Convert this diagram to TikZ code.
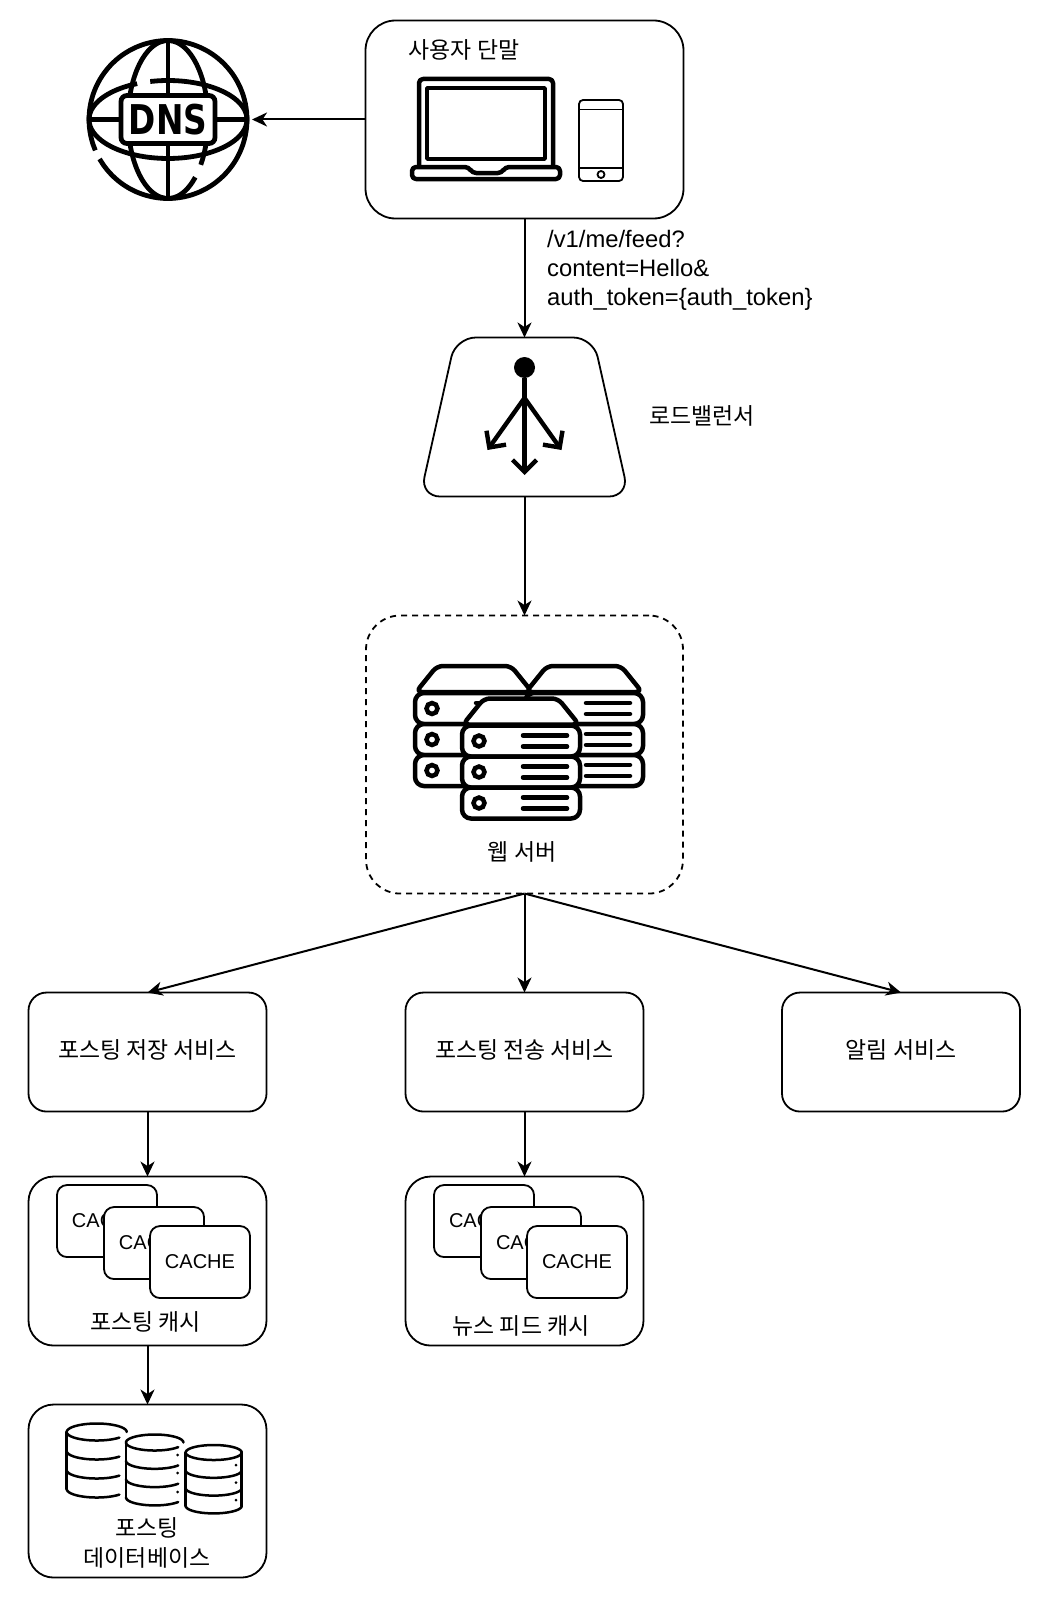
\documentclass[tikz,border=0pt]{standalone}
\usepackage{fontspec}
\setmainfont{Liberation Sans}
\newfontfamily\krfont{Noto Sans CJK KR}
\newfontfamily\dnsfont[FakeStretch=0.8]{DejaVu Sans}
\usetikzlibrary{positioning,shapes.geometric,arrows.meta}
\newcommand{\ellarc}[6]{plot[domain=#5:#6,samples=60,variable=\t,smooth] ({#1+#3*cos(\t)},{#2+#4*sin(\t)})}
\tikzset{
	serverstack/.pic={
		\draw[fill=white,line width=4.5pt,rounded corners=6pt,line join=round] (1,0) -- (22,-26) -- (96,-26) -- (117,0) -- cycle;
		\foreach \row in {0,1,2}{
			\draw[fill=white,line width=4.5pt,rounded corners=9pt] (0,{1+31*\row}) rectangle (118,{32+31*\row});
			\draw[fill=white,line width=4.5pt] (17,{16.5+31*\row}) circle[radius=5.5pt];
			\draw[line width=4.5pt,line cap=round] (61,{11+31*\row}) -- (105,{11+31*\row});
			\draw[line width=4.5pt,line cap=round] (61,{22+31*\row}) -- (105,{22+31*\row});
		}
	}
}
\begin{document}
\begin{tikzpicture}[
	x=1pt, y=-1pt,
	>={Stealth[length=15pt,width=14pt,inset=4.5pt]},
	rec/.style     = {draw, line width=1.8pt, inner sep=0pt, outer sep=0pt, fill=white, align=center},
	userbox/.style = {rec, minimum width=318pt, minimum height=198pt, rounded corners=30pt},
	lbshape/.style = {rec, trapezium, trapezium stretches=true, trapezium left angle=74, trapezium right angle=74,
		minimum width=209pt, minimum height=159pt, rounded corners=20pt},
	webbox/.style  = {rec, dashed, dash pattern=on 6pt off 5pt, minimum width=317pt, minimum height=278pt, rounded corners=34pt},
	svc/.style     = {rec, text height=17pt, text depth=3.5pt, minimum width=238pt, minimum height=119pt, rounded corners=18pt},
	groupbox/.style = {rec, minimum width=238pt, rounded corners=25pt},
	card/.style    = {rec, font=\fontsize{20}{23}\selectfont, minimum width=100pt, minimum height=72pt, rounded corners=10pt},
	label/.style   = {inner sep=0pt, align=center},
	globe/.style   = {line width=4.8pt},
	icon/.style    = {line width=3.5pt, line join=round},
	barb/.style    = {-{Straight Barb[length=12pt,width=24pt]}, line width=4.4pt},
	link/.style    = {->, line width=2pt},
	cyl/.style     = {line width=2.5pt, line cap=round},
	font=\krfont\fontsize{22.9}{30.5}\selectfont]
	
	\useasboundingbox (0,0) rectangle (1041,1600);
	
	% main chain from top to bottom
	\node[userbox] (user) at (524.5,119.5) {};
	\node[lbshape, below=119pt of user] (lb) {\phantom{M}};
	\node[webbox, below=119pt of lb] (web) {};
	\node[svc, below=99pt of web] (svcfeed) {포스팅 전송 서비스};
	\node[svc, left=139pt of svcfeed] (svcstore) {포스팅 저장 서비스};
	\node[svc, right=138.5pt of svcfeed] (svcnotify) {알림 서비스};
	\node[groupbox, minimum height=169pt, below=65pt of svcstore] (cachepost) {};
	\node[groupbox, minimum height=169pt, below=65pt of svcfeed] (cachefeed) {};
	\node[groupbox, minimum height=173pt, below=59pt of cachepost] (db) {};
	\node[circle, minimum size=168pt, inner sep=0pt, outer sep=0pt] (dns) at (168,119.5) {};
	
	% the DNS globe
	\draw[globe] \ellarc{168}{119.5}{79}{79}{157}{510};
	\draw[globe] \ellarc{168}{119.5}{40}{79}{47}{395};
	\draw[globe] \ellarc{168}{119.5}{79}{39}{257}{607};
	\draw[globe] (168,40) -- (168,199);
	\draw[globe] (89,119.5) -- (247,119.5);
	\node[draw, globe, fill=white, rounded corners=6pt, minimum width=94pt, minimum height=48pt, inner sep=0pt,
		font=\dnsfont\bfseries\fontsize{41}{41}\selectfont] (dnstext) at (168,119.5) {DNS};
	
	% terminal: laptop and phone
	\node[label] (userlabel) at (464,49.5) {사용자 단말};
	\draw[icon, line width=4.5pt, rounded corners=4pt] (419,166) -- (419,79) -- (553,79) -- (553,166);
	\draw[icon, line width=3.5pt] (427,88) rectangle (545,159);
	\draw[icon, line width=4.5pt, rounded corners=4pt] (412,167) -- (469,167) -- (472,173) -- (502,173) -- (505,167) -- (560,167) -- (560,179) -- (412,179) -- cycle;
	\draw[line width=1.8pt, rounded corners=4pt] (579,100) rectangle (623,181);
	\draw[line width=1.8pt] (579,109.5) -- (623,109.5);
	\draw[line width=1.8pt] (579,168) -- (623,168);
	\draw[line width=1.8pt] (601,174.5) circle[radius=3.5pt];
	
	% load balancer icon
	\node[circle, fill=black, minimum size=21pt, inner sep=0pt] (lbdot) at (524.5,367.5) {};
	\coordinate (lbfork) at (524.5,398);
	\draw[line width=4.4pt] (lbdot) -- (lbfork);
	\coordinate (lbtipl) at (487.5,450);
	\coordinate (lbtipm) at (524.5,475);
	\coordinate (lbtipr) at (561.5,450);
	\foreach \tip in {lbtipl,lbtipm,lbtipr}
	\draw[barb] (lbfork) -- (\tip);
	\node[label] (lblabel) at (702,416) {로드밸런서};
	
	% request label
	\node[label, align=left, anchor=west, font=\fontsize{23.8}{29}\selectfont] (reqlabel) at (547,270.5) {/v1/me/feed?\\content=Hello\&\\auth\_token=\{auth\_token\}};
	
	% web servers
	\pic (srvleft) at (415,692) {serverstack};
	\pic (srvright) at (525,692) {serverstack};
	\pic (srvfront) at (462,724.5) {serverstack};
	\node[label] (weblabel) at (522,852) {웹 서버};
	
	% three cards in each cache box
	\foreach \group in {cachepost,cachefeed}{
		\node[card, xshift=-40.5pt, yshift=40pt] (\group a) at (\group.center) {CACHE};
		\node[card, xshift=6.5pt, yshift=18pt] (\group b) at (\group.center) {CACHE};
		\node[card, xshift=52.5pt, yshift=-1pt] (\group c) at (\group.center) {CACHE};
	}
	\node[label] (cachepostlabel) at (145.5,1322) {포스팅 캐시};
	\node[label] (cachefeedlabel) at (521,1326) {뉴스 피드 캐시};
	
	% database cylinders: centre x / rim y / x radius / y radius / row step / last angle
	\foreach \cx/\cy/\rx/\ry/\dy/\e in {96.7/1432/30/8.5/19/41, 154.7/1442.5/28.7/8/18.3/35, 213.7/1452.5/28/7.5/17.8/0}{
		\draw[cyl] \ellarc{\cx}{\cy}{\rx}{\ry}{180}{360};
		\draw[cyl] ({\cx-\rx},\cy) -- ({\cx-\rx},{\cy+3*\dy});
		\foreach \row in {0,1,2,3}
		\draw[cyl] \ellarc{\cx}{\cy+\row*\dy}{\rx}{\ry}{\e}{180};
	}
	\draw[cyl] (241.7,1452.5) -- (241.7,1506);
	\foreach \dotx/\doty in {177.7/1455,177.7/1473,177.7/1492,236/1465,236/1482.7,236/1500}
	\fill (\dotx,\doty) circle[radius=1.5pt];
	\node[label] (dblabel) at (147,1543) {포스팅\\데이터베이스};
	
	% connectors
	\draw[link] (user.west) -- (dns.east);
	\draw[link] (user.south) -- (lb.north);
	\draw[link] (lb.south) -- (web.north);
	\foreach \target in {svcstore,svcfeed,svcnotify}
	\draw[link] (web.south) -- (\target.north);
	\draw[link] (svcstore.south) -- (cachepost.north);
	\draw[link] (svcfeed.south) -- (cachefeed.north);
	\draw[link] (cachepost.south) -- (db.north);
\end{tikzpicture}
\end{document}
